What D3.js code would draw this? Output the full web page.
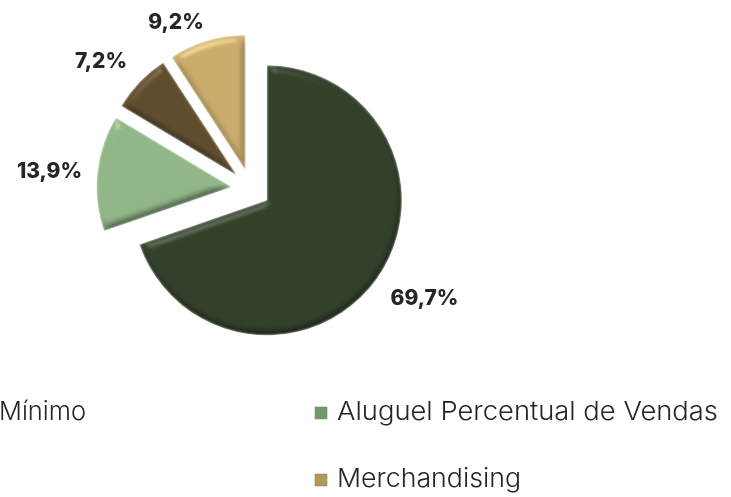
<!DOCTYPE html>
<html>
<head>
    <meta charset="utf-8">
    <title>pie</title>
    <script type="text/javascript" src="https://d3js.org/d3.v7.min.js"></script>
    <style>
      html, body { margin: 0; padding: 0; background: #fff; overflow: hidden; }
      text { font-family: "Inter", "Lato", sans-serif; fill: #262626; }
    </style>
</head>
<body>
<script type="text/javascript">
        var values = [69.7, 13.9, 7.2, 9.2]
        var labels = ["69,7%", "13,9%", "7,2%", "9,2%"]
        var colors = ["#2f3d27", "#8fb585", "#5e4a2b", "#c9aa68"]
        var labelX = [424.5, 49.5, 101, 176]
        var labelY = [298, 171, 61, 22]

        // only what is visible in the picture, first entry runs off the left edge
        var legendNames = ["Mínimo", "Aluguel Percentual de Vendas", "Merchandising"]
        var legendColors = [null, "#6f9a68", "#b5975a"]
        var legendX = [-1, 337, 337]
        var legendY = [411, 411, 478]
        var legendWidth = [87, 381, 184]

        var width = 731
        var height = 497
        var radius = 135
        var explode = 19.5
        var cx = 251
        var cy = 189

        var svg = d3.select("body").append("svg").attr("width", width).attr("height", height)
        var defs = svg.append("defs")

        // bevel look of the slices
        var bevel = defs.append("filter").attr("id", "bevel")
            .attr("x", "-5%").attr("y", "-5%").attr("width", "110%").attr("height", "110%")
            .attr("color-interpolation-filters", "sRGB")
        bevel.append("feGaussianBlur").attr("in", "SourceAlpha").attr("stdDeviation", 4).attr("result", "blur")
        var light = bevel.append("feDiffuseLighting").attr("in", "blur").attr("surfaceScale", 3)
            .attr("diffuseConstant", 1.25).attr("lighting-color", "#ffffff").attr("result", "lit")
        light.append("feDistantLight").attr("azimuth", 250).attr("elevation", 55)
        var spec = bevel.append("feSpecularLighting").attr("in", "blur").attr("surfaceScale", 3)
            .attr("specularConstant", 0.2).attr("specularExponent", 70).attr("lighting-color", "#ffffff").attr("result", "spec")
        spec.append("feDistantLight").attr("azimuth", 250).attr("elevation", 55)
        bevel.append("feComposite").attr("in", "SourceGraphic").attr("in2", "lit")
            .attr("operator", "arithmetic").attr("k1", 0.98).attr("k2", 0).attr("k3", 0).attr("k4", 0)
            .attr("result", "shaded")
        bevel.append("feComposite").attr("in", "shaded").attr("in2", "spec")
            .attr("operator", "arithmetic").attr("k1", 0).attr("k2", 1).attr("k3", 1).attr("k4", 0)
            .attr("result", "shiny")
        bevel.append("feGaussianBlur").attr("in", "shiny").attr("stdDeviation", 0.8).attr("result", "soft")
        bevel.append("feComposite").attr("in", "soft").attr("in2", "SourceAlpha").attr("operator", "in")

        // the picture is a slightly soft scan
        defs.append("filter").attr("id", "soft")
            .append("feGaussianBlur").attr("stdDeviation", 0.45)

        var pie = d3.pie().sort(null).value(function(d) { return d })
        var arc = d3.arc().innerRadius(0).outerRadius(radius)

        svg.selectAll(".slice")
            .data(pie(values))
            .enter()
            .append("path")
            .attr("class", "slice")
            .attr("d", arc)
            .attr("fill", function(d, i) { return colors[i] })
            .attr("filter", "url(#bevel)")
            .attr("transform", function(d) {
                var mid = (d.startAngle + d.endAngle) / 2
                var x = cx + explode * Math.sin(mid)
                var y = cy - explode * Math.cos(mid)
                return "translate(" + x + "," + y + ")"
            })

        svg.selectAll(".label")
            .data(labels)
            .enter()
            .append("text")
            .attr("class", "label")
            .attr("x", function(d, i) { return labelX[i] })
            .attr("y", function(d, i) { return labelY[i] + 7 })
            .attr("text-anchor", "middle")
            .attr("font-size", 21)
            .attr("font-weight", 800)
            .attr("filter", "url(#soft)")
            .text(function(d) { return d })

        svg.selectAll(".legend")
            .data(legendNames)
            .enter()
            .append("text")
            .attr("class", "legend")
            .attr("x", function(d, i) { return legendX[i] })
            .attr("y", function(d, i) { return legendY[i] + 9 })
            .attr("font-size", 26)
            .attr("font-weight", 300)
            .attr("textLength", function(d, i) { return legendWidth[i] })
            .attr("lengthAdjust", "spacingAndGlyphs")
            .attr("filter", "url(#soft)")
            .text(function(d) { return d })

        svg.selectAll(".key")
            .data(legendColors.filter(function(c) { return c }))
            .enter()
            .append("rect")
            .attr("class", "key")
            .attr("x", 315)
            .attr("y", function(d, i) { return legendY[i + 1] - 4 })
            .attr("width", 12)
            .attr("height", 12)
            .attr("fill", function(d) { return d })
            .attr("stroke", "#8a8a7a")
            .attr("stroke-width", 0.6)
            .attr("filter", "url(#soft)")
</script>
</body>
</html>
